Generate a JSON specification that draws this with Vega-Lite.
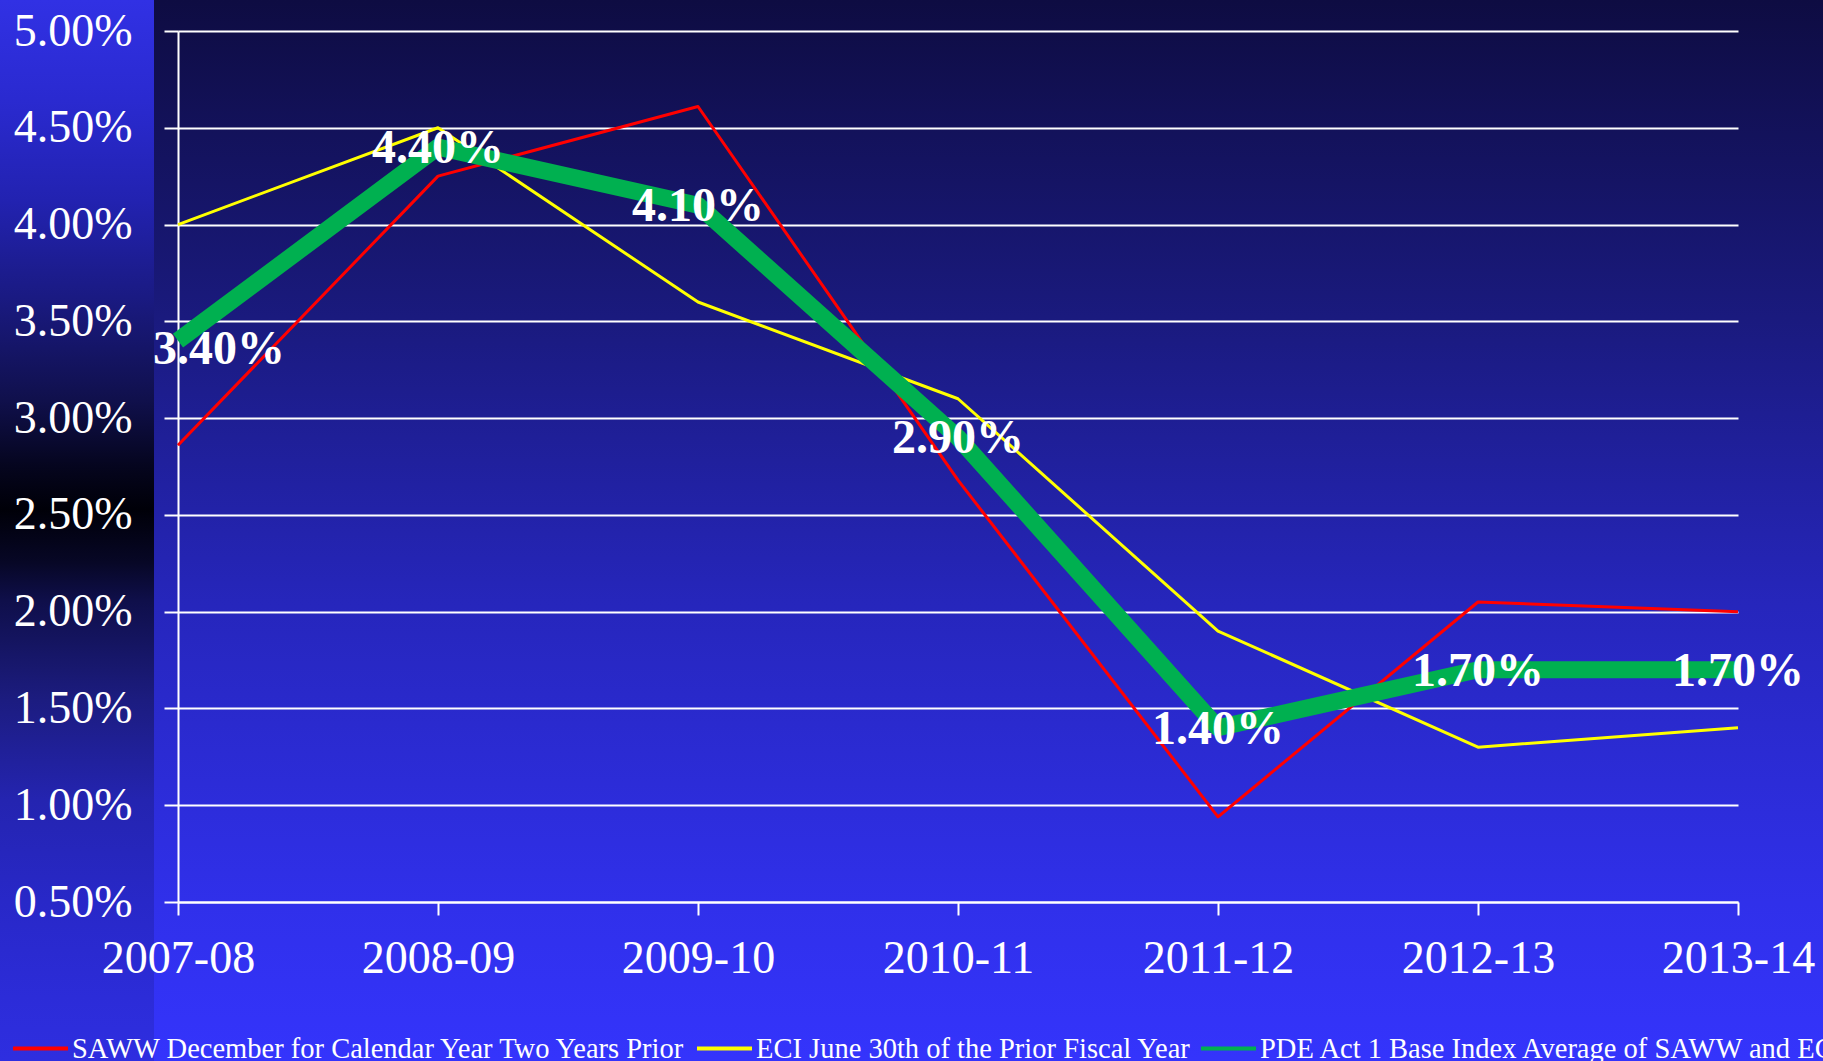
{
  "$schema": "https://vega.github.io/schema/vega-lite/v6.json",
  "padding": 0,
  "spacing": 0,
  "bounds": "flush",
  "background": "#1c1c90",
  "config": {
    "view": {"stroke": null},
    "font": "Liberation Serif"
  },
  "hconcat": [
    {
      "width": 154,
      "height": 1061,
      "data": {"values": [{"panel": "strip"}]},
      "mark": {
        "type": "rect",
        "strokeWidth": 0,
        "fill": {
          "gradient": "linear", "x1": 0, "y1": 0, "x2": 0, "y2": 1,
          "stops": [
            {"offset": 0, "color": "#3131e4"},
            {"offset": 0.094, "color": "#2a2ad0"},
            {"offset": 0.19, "color": "#2222b0"},
            {"offset": 0.28, "color": "#1a1a82"},
            {"offset": 0.377, "color": "#10104c"},
            {"offset": 0.44, "color": "#05051e"},
            {"offset": 0.48, "color": "#000008"},
            {"offset": 0.53, "color": "#070726"},
            {"offset": 0.566, "color": "#0f0f4a"},
            {"offset": 0.66, "color": "#1c1c80"},
            {"offset": 0.754, "color": "#2424b0"},
            {"offset": 0.85, "color": "#2828c8"},
            {"offset": 0.94, "color": "#2c2cd8"},
            {"offset": 1, "color": "#2e2ee0"}
          ]
        }
      },
      "encoding": {}
    },
    {
      "width": 1669,
      "height": 1061,
      "view": {
        "stroke": null,
        "fill": {
          "gradient": "linear", "x1": 0, "y1": 0, "x2": 0, "y2": 1,
          "stops": [
            {"offset": 0, "color": "#0e0c42"},
            {"offset": 0.3, "color": "#1a1a7e"},
            {"offset": 0.57, "color": "#2626bc"},
            {"offset": 0.85, "color": "#3030ea"},
            {"offset": 1, "color": "#3434fc"}
          ]
        }
      },
      "data": {
        "values": [
          {"year": "2007-08", "series": "SAWW December for Calendar Year Two Years Prior", "value": 0.0286},
          {"year": "2008-09", "series": "SAWW December for Calendar Year Two Years Prior", "value": 0.0425},
          {"year": "2009-10", "series": "SAWW December for Calendar Year Two Years Prior", "value": 0.0461},
          {"year": "2010-11", "series": "SAWW December for Calendar Year Two Years Prior", "value": 0.0268},
          {"year": "2011-12", "series": "SAWW December for Calendar Year Two Years Prior", "value": 0.0094},
          {"year": "2012-13", "series": "SAWW December for Calendar Year Two Years Prior", "value": 0.0205},
          {"year": "2013-14", "series": "SAWW December for Calendar Year Two Years Prior", "value": 0.0200},
          {"year": "2007-08", "series": "ECI June 30th of the Prior Fiscal Year", "value": 0.0400},
          {"year": "2008-09", "series": "ECI June 30th of the Prior Fiscal Year", "value": 0.0450},
          {"year": "2009-10", "series": "ECI June 30th of the Prior Fiscal Year", "value": 0.0360},
          {"year": "2010-11", "series": "ECI June 30th of the Prior Fiscal Year", "value": 0.0310},
          {"year": "2011-12", "series": "ECI June 30th of the Prior Fiscal Year", "value": 0.0190},
          {"year": "2012-13", "series": "ECI June 30th of the Prior Fiscal Year", "value": 0.0130},
          {"year": "2013-14", "series": "ECI June 30th of the Prior Fiscal Year", "value": 0.0140},
          {"year": "2007-08", "series": "PDE Act 1 Base Index Average of SAWW and ECI", "value": 0.0340},
          {"year": "2008-09", "series": "PDE Act 1 Base Index Average of SAWW and ECI", "value": 0.0440},
          {"year": "2009-10", "series": "PDE Act 1 Base Index Average of SAWW and ECI", "value": 0.0410},
          {"year": "2010-11", "series": "PDE Act 1 Base Index Average of SAWW and ECI", "value": 0.0290},
          {"year": "2011-12", "series": "PDE Act 1 Base Index Average of SAWW and ECI", "value": 0.0140},
          {"year": "2012-13", "series": "PDE Act 1 Base Index Average of SAWW and ECI", "value": 0.0170},
          {"year": "2013-14", "series": "PDE Act 1 Base Index Average of SAWW and ECI", "value": 0.0170}
        ]
      },
      "layer": [
        {
          "transform": [
            {"filter": "datum.series !== 'PDE Act 1 Base Index Average of SAWW and ECI'"}
          ],
          "mark": {"type": "line", "strokeWidth": 3, "strokeCap": "butt", "strokeJoin": "round"},
          "encoding": {
            "x": {
              "field": "year", "type": "ordinal", "sort": null,
              "scale": {"type": "point", "range": [24, 1584], "padding": 0},
              "axis": {
                "orient": "bottom", "offset": -159, "title": null,
                "labelFont": "Liberation Serif", "labelFontSize": 46, "labelColor": "white",
                "labelAngle": 0, "labelPadding": 21,
                "domainColor": "white", "domainWidth": 2,
                "tickColor": "white", "tickWidth": 2, "tickSize": 13,
                "grid": false
              }
            },
            "y": {
              "field": "value", "type": "quantitative",
              "scale": {"domain": [0.005, 0.05], "range": [902, 31], "nice": false, "zero": false},
              "axis": {
                "orient": "left", "offset": -24, "title": null,
                "values": [0.005, 0.01, 0.015, 0.02, 0.025, 0.03, 0.035, 0.04, 0.045, 0.05],
                "format": ".2%",
                "labelFont": "Liberation Serif", "labelFontSize": 46, "labelColor": "white",
                "labelPadding": 32,
                "domainColor": "white", "domainWidth": 2,
                "tickColor": "white", "tickWidth": 2, "tickSize": 14,
                "grid": true, "gridColor": "white", "gridWidth": 2, "gridOpacity": 1
              }
            },
            "color": {
              "field": "series", "type": "nominal", "sort": null,
              "scale": {
                "domain": ["SAWW December for Calendar Year Two Years Prior", "ECI June 30th of the Prior Fiscal Year", "PDE Act 1 Base Index Average of SAWW and ECI"],
                "range": ["#ff0000", "#ffff00", "#00b050"]
              },
              "legend": {
                "orient": "none", "legendX": 11, "legendY": 1019, "direction": "horizontal", "columns": 3,
                "title": null, "labelFont": "Liberation Serif", "labelFontSize": 28.5, "labelColor": "white",
                "labelLimit": 800, "symbolType": "stroke", "symbolSize": 3025, "symbolStrokeWidth": 4,
                "columnPadding": 2, "labelOffset": 2, "padding": 0
              }
            }
          }
        },
        {
          "transform": [
            {"filter": "datum.series === 'PDE Act 1 Base Index Average of SAWW and ECI'"}
          ],
          "mark": {"type": "line", "strokeWidth": 17, "strokeCap": "butt", "strokeJoin": "round"},
          "encoding": {
            "x": {"field": "year", "type": "ordinal", "sort": null},
            "y": {"field": "value", "type": "quantitative"},
            "color": {"field": "series", "type": "nominal", "sort": null}
          }
        },
        {
          "transform": [
            {"filter": "datum.series === 'PDE Act 1 Base Index Average of SAWW and ECI' && datum.year !== '2007-08'"}
          ],
          "mark": {"type": "text", "font": "Liberation Serif", "fontWeight": "bold", "fontSize": 48, "color": "white", "align": "center", "baseline": "middle", "dy": 2},
          "encoding": {
            "x": {"field": "year", "type": "ordinal", "sort": null},
            "y": {"field": "value", "type": "quantitative"},
            "text": {"field": "value", "type": "quantitative", "format": ".2%"}
          }
        },
        {
          "transform": [
            {"filter": "datum.series === 'PDE Act 1 Base Index Average of SAWW and ECI' && datum.year === '2007-08'"}
          ],
          "mark": {"type": "text", "font": "Liberation Serif", "fontWeight": "bold", "fontSize": 48, "color": "white", "align": "center", "baseline": "middle", "dx": 41, "dy": 9},
          "encoding": {
            "x": {"field": "year", "type": "ordinal", "sort": null},
            "y": {"field": "value", "type": "quantitative"},
            "text": {"field": "value", "type": "quantitative", "format": ".2%"}
          }
        }
      ]
    }
  ]
}
